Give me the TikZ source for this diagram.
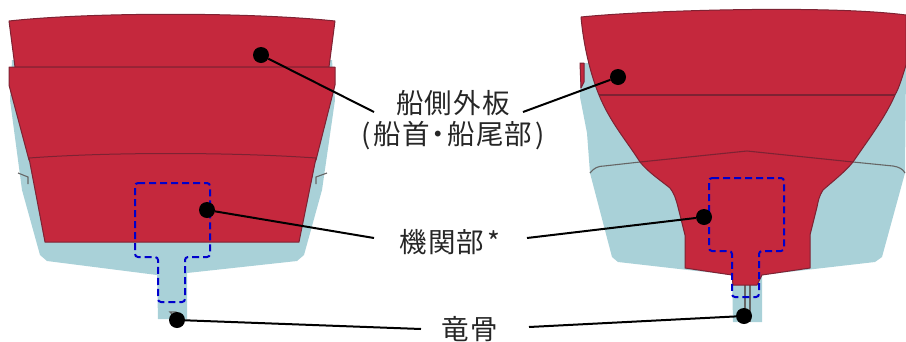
\documentclass[tikz,border=0pt]{standalone}
\usepackage{fontspec}
\newfontfamily\jp[LetterSpace=4]{Noto Sans CJK JP}
\definecolor{hullred}{HTML}{C5283D}
\definecolor{hullblue}{HTML}{A9D1D8}
\definecolor{edgered}{HTML}{7E2233}
\definecolor{dashblue}{HTML}{0000CC}
\tikzset{
  panel/.style={fill=hullred,draw=edgered,line width=1pt,line join=round},
  hullbody/.style={fill=hullblue,draw=none},
  greyline/.style={draw=gray!80!black,line width=1.1pt},
  zone/.style={draw=dashblue,line width=2pt,dash pattern=on 7pt off 4pt,rounded corners=3pt},
  dot/.style={circle,fill=black,inner sep=0pt,minimum size=16pt},
  lead/.style={draw=black,line width=2pt},
  lbl/.style={inner sep=0pt,text=black!85,font=\fontsize{27.5}{30}\selectfont\jp}
}
\begin{document}
\begin{tikzpicture}[x=1pt,y=-1pt]
\useasboundingbox (0,0) rectangle (906,341);
% left hull
\path[hullbody] (12,60) -- (10,100) -- (22,190) -- (40,255) -- (47,261) -- (157,275) -- (158,319) -- (187,319) -- (187,273) -- (297,261) -- (304,255) -- (322,190) -- (335,100) -- (332,60) -- cycle;
\draw[greyline] (18,173) -- (28,177) -- (28,184) (327,173) -- (316,177) -- (316,184);
\draw[panel] (9,21) .. controls (90,12) and (250,12) .. (335,21) -- (329,67) -- (15,67) -- cycle;
\draw[panel] (9,67) -- (335,67) -- (335,85) -- (316,160) -- (29,160) -- (9,85) -- cycle;
\draw[panel] (29,158) .. controls (110,152) and (230,152) .. (316,158) -- (299,242) -- (45,242) -- cycle;
\draw[greyline,fill=hullblue!70!white] (170,312) -- (176,312) -- (176,318) -- cycle;
\draw[zone] (135,183) -- (210,183) -- (210,257) -- (185,257) -- (185,302) -- (158,302) -- (158,257) -- (135,257) -- cycle;
% right hull
\path[hullbody] (580,63) -- (580,97) -- (587,133) -- (590,173) -- (612,257) -- (618,262) -- (732,275) -- (733,322) -- (762,322) -- (762,275) -- (875,262) -- (882,257) -- (905,173) -- (906,67) -- cycle;
\draw[panel] (580,63) -- (584,63) -- (584,82) -- (581,88) -- cycle;
\draw[greyline] (590,173) .. controls (594,168) and (598,166) .. (604,166) -- (640,162) (853,162) -- (893,166) .. controls (899,167) and (903,169) .. (905,173);
\draw[greyline] (745,285) -- (745,320) (750,285) -- (750,322);
\draw[panel] (581,17) .. controls (650,10) and (830,5) .. (906,15) -- (906,65) .. controls (902,78) and (899,88) .. (895,95) .. controls (885,118) and (868,140) .. (853,162) .. controls (845,172) and (832,182) .. (823,190) .. controls (819,196) and (818,202) .. (817,207) -- (810,235) -- (810,268) -- (762,275) -- (757,285) -- (733,285) -- (732,275) -- (685,268) -- (685,235) -- (678,207) .. controls (676,199) and (674,193) .. (670,188) .. controls (660,180) and (648,172) .. (640,162) .. controls (626,140) and (610,122) .. (599,95) .. controls (592,78) and (584,50) .. (581,17) -- cycle;
\draw[edgered,line width=1.3pt] (599,95) -- (895,95);
\draw[edgered,line width=1.1pt] (640,162) -- (747,151) -- (853,162);
\draw[zone] (709,178) -- (784,178) -- (784,251) -- (759,251) -- (759,297) -- (732,297) -- (732,251) -- (709,251) -- cycle;
% labels
\node[lbl] (shell) at (453,103) {船側外板};
\node[lbl] (shellsub) at (453,136) {(\kern3pt船首\kern-5pt・\kern-5pt船尾部\kern3pt)};
\node[lbl] (engine) at (450,242) {機関部\kern3pt*};
\node[lbl] (keel) at (470,329) {竜骨};
% dots
\node[dot] (d1) at (261,55) {};
\node[dot] (d2) at (207,210) {};
\node[dot] (d3) at (177,320) {};
\node[dot] (d4) at (618,77) {};
\node[dot] (d5) at (704,217) {};
\node[dot] (d6) at (744,316) {};
% connector ends
\coordinate (e1) at (374,112);
\coordinate (e2) at (374,238);
\coordinate (e3) at (421,329);
\coordinate (e4) at (523,112);
\coordinate (e5) at (527,238);
\coordinate (e6) at (529,327);
\draw[lead] (d1) -- (e1);
\draw[lead] (d2) -- (e2);
\draw[lead] (d3) -- (e3);
\draw[lead] (d4) -- (e4);
\draw[lead] (d5) -- (e5);
\draw[lead] (d6) -- (e6);
\end{tikzpicture}
\end{document}
